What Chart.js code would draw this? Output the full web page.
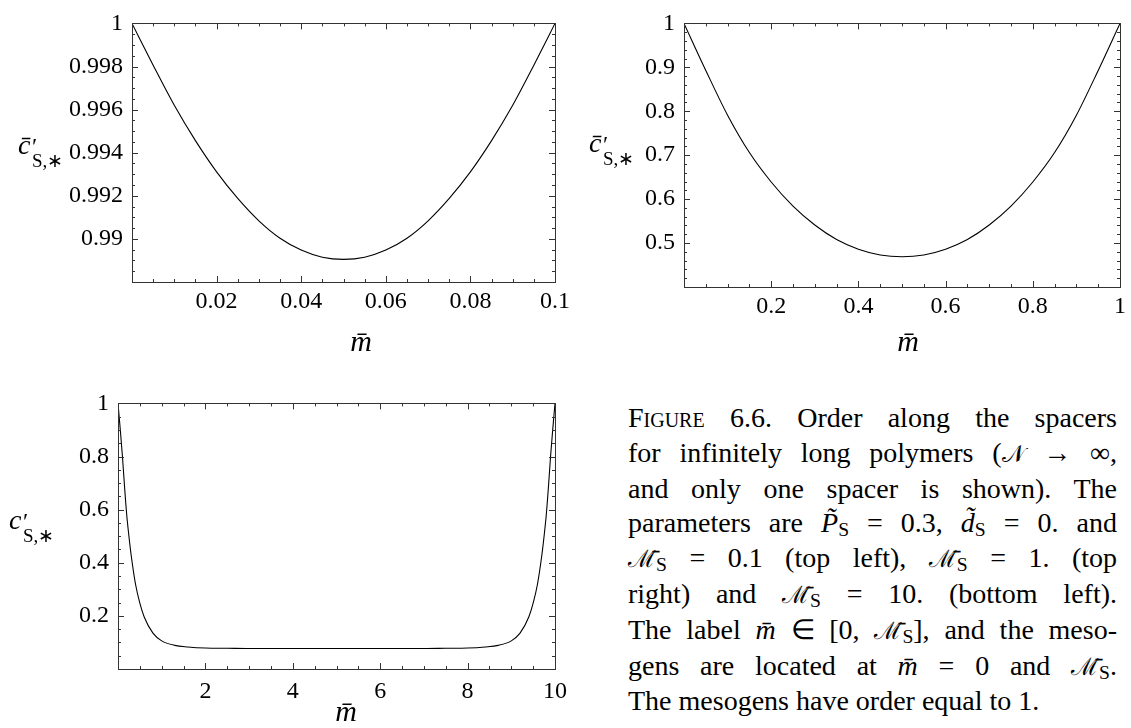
<!DOCTYPE html>
<html>
<head>
<meta charset="utf-8">
<script src="https://cdn.jsdelivr.net/npm/chart.js@4.4.1/dist/chart.umd.min.js"></script>
<style>
body { margin: 0; background: #fff; }
canvas { position: absolute; }
.lbl { position: absolute; font-family: "Times New Roman", serif; color: #000; white-space: nowrap; line-height: 1; }
.mbar { transform: translateX(-50%); font-size: 30px; font-style: italic; }
.cap { position: absolute; left: 628px; top: 401px; width: 489px; font-family: "Times New Roman", serif;
       font-size: 28px; line-height: 34.8px; color: #000; }
.cap div { text-align: justify; text-align-last: justify; }
.cap div.last { text-align-last: left; }
.cap sub { font-size: 70%; vertical-align: -0.22em; line-height: 0; font-style: normal; }
.cal { font-family: "DejaVu Serif"; font-size: 24px; font-style: normal; }
.sc { font-variant: small-caps; }
</style>
</head>
<body>
<canvas id="plotA" width="575" height="330" style="left:0;top:0"></canvas>
<canvas id="plotB" width="561" height="330" style="left:570px;top:0"></canvas>
<canvas id="plotC" width="575" height="330" style="left:0;top:380px"></canvas>

<!-- axis titles -->
<div class="lbl" style="left:18px;top:131px;font-size:28px;font-style:italic">c&#772;</div>
<div class="lbl" style="left:32px;top:134px;font-size:24px">&#8242;</div>
<div class="lbl" style="left:32px;top:151px;font-size:19px">S,&#8727;</div>
<div class="lbl mbar" style="left:361px;top:326px">m&#772;</div>

<div class="lbl" style="left:589px;top:129px;font-size:28px;font-style:italic">c&#772;</div>
<div class="lbl" style="left:603px;top:132px;font-size:24px">&#8242;</div>
<div class="lbl" style="left:603px;top:149px;font-size:19px">S,&#8727;</div>
<div class="lbl mbar" style="left:908px;top:326px">m&#772;</div>

<div class="lbl" style="left:9px;top:506px;font-size:28px;font-style:italic">c</div>
<div class="lbl" style="left:23px;top:509px;font-size:24px">&#8242;</div>
<div class="lbl" style="left:23px;top:526px;font-size:19px">S,&#8727;</div>
<div class="lbl mbar" style="left:346px;top:696px">m&#772;</div>

<div class="cap">
  <div><span class="sc">Figure</span> 6.6. Order along the spacers</div>
  <div>for infinitely long polymers (<span class="cal">&#119977;</span> &#8594; &#8734;,</div>
  <div>and only one spacer is shown). The</div>
  <div>parameters are <i>P&#771;</i><sub>S</sub> = 0.3, <i>d&#771;</i><sub>S</sub> = 0. and</div>
  <div><span class="cal">&#8499;&#772;</span><sub>S</sub> = 0.1 (top left), <span class="cal">&#8499;&#772;</span><sub>S</sub> = 1. (top</div>
  <div>right) and <span class="cal">&#8499;&#772;</span><sub>S</sub> = 10. (bottom left).</div>
  <div>The label <i>m&#772;</i> &#8712; [0, <span class="cal">&#8499;&#772;</span><sub>S</sub>], and the meso-</div>
  <div>gens are located at <i>m&#772;</i> = 0 and <span class="cal">&#8499;&#772;</span><sub>S</sub>.</div>
  <div class="last">The mesogens have order equal to 1.</div>
</div>

<script>
// ── Data ────────────────────────────────────────────────────
// top left: M_S = 0.1
const mA = [0, 0.005, 0.01, 0.015, 0.02, 0.025, 0.03, 0.035, 0.04, 0.045, 0.05,
            0.055, 0.06, 0.065, 0.07, 0.075, 0.08, 0.085, 0.09, 0.095, 0.1];
const cA = [1.0, 0.99806, 0.99620, 0.99456, 0.99311, 0.99188, 0.99084, 0.99003, 0.98948, 0.98915, 0.98905,
            0.98915, 0.98948, 0.99003, 0.99084, 0.99188, 0.99311, 0.99456, 0.99620, 0.99806, 1.0];

// top right: M_S = 1
const mB = [0, 0.05, 0.1, 0.15, 0.2, 0.25, 0.3, 0.35, 0.4, 0.45, 0.5,
            0.55, 0.6, 0.65, 0.7, 0.75, 0.8, 0.85, 0.9, 0.95, 1];
const cB = [1.0, 0.893, 0.791, 0.706, 0.639, 0.584, 0.541, 0.508, 0.486, 0.473, 0.469,
            0.473, 0.486, 0.508, 0.541, 0.584, 0.639, 0.706, 0.791, 0.893, 1.0];

// bottom left: M_S = 10
const mC = [0, 0.05, 0.1, 0.15, 0.2, 0.25, 0.3, 0.4, 0.5, 0.6, 0.8, 1.0, 1.3, 1.6, 2.0, 2.5, 3, 4, 5,
            6, 7, 7.5, 8, 8.4, 8.7, 9.0, 9.2, 9.4, 9.5, 9.6, 9.7, 9.75, 9.8, 9.85, 9.9, 9.95, 10];
const cC = [1.0, 0.905, 0.804, 0.686, 0.58, 0.50, 0.43, 0.32, 0.248, 0.196, 0.135, 0.106, 0.089, 0.083, 0.079, 0.078, 0.077, 0.077, 0.077,
            0.077, 0.077, 0.078, 0.079, 0.083, 0.089, 0.106, 0.135, 0.196, 0.248, 0.32, 0.43, 0.50, 0.58, 0.686, 0.804, 0.905, 1.0];

// ── Tick values and labels ──────────────────────────────────
const xTicksA = [0.02, 0.04, 0.06, 0.08, 0.1];
const xLabelsA = ['0.02', '0.04', '0.06', '0.08', '0.1'];
const yTicksA = [0.99, 0.992, 0.994, 0.996, 0.998, 1];
const yLabelsA = ['0.99', '0.992', '0.994', '0.996', '0.998', '1'];

const xTicksB = [0.2, 0.4, 0.6, 0.8, 1];
const xLabelsB = ['0.2', '0.4', '0.6', '0.8', '1'];
const yTicksB = [0.5, 0.6, 0.7, 0.8, 0.9, 1];
const yLabelsB = ['0.5', '0.6', '0.7', '0.8', '0.9', '1'];

const xTicksC = [2, 4, 6, 8, 10];
const xLabelsC = ['2', '4', '6', '8', '10'];
const yTicksC = [0.2, 0.4, 0.6, 0.8, 1];
const yLabelsC = ['0.2', '0.4', '0.6', '0.8', '1'];

// minor tick positions (Mathematica-style frame ticks)
function steps(lo, hi, st) {
  const out = [];
  const n = Math.round((hi - lo) / st);
  for (let i = 0; i <= n; i++) out.push(+(lo + i * st).toFixed(6));
  return out;
}

// ── Frame + inward ticks on all four sides ──────────────────
const frameTicks = {
  id: 'frameTicks',
  afterDraw(chart, args, o) {
    const { ctx, chartArea: a, scales: { x, y } } = chart;
    ctx.save();
    ctx.strokeStyle = '#333';
    ctx.lineWidth = 1;
    ctx.beginPath();
    const xt = (v, len) => {
      const px = Math.round(x.getPixelForValue(v)) + 0.5;
      ctx.moveTo(px, a.bottom); ctx.lineTo(px, a.bottom - len);
      ctx.moveTo(px, a.top); ctx.lineTo(px, a.top + len);
    };
    const yt = (v, len) => {
      const py = Math.round(y.getPixelForValue(v)) + 0.5;
      ctx.moveTo(a.left, py); ctx.lineTo(a.left + len, py);
      ctx.moveTo(a.right, py); ctx.lineTo(a.right - len, py);
    };
    o.xMinor.forEach(v => xt(v, 3));
    o.yMinor.forEach(v => yt(v, 3));
    o.xMajor.forEach(v => xt(v, 6));
    o.yMajor.forEach(v => yt(v, 6));
    ctx.stroke();
    ctx.strokeRect(Math.round(a.left) + 0.5, Math.round(a.top) + 0.5,
                   Math.round(a.right - a.left), Math.round(a.bottom - a.top));
    ctx.restore();
  }
};

function makePlot(id, xs, ys, p) {
  const tickFont = { family: '"Times New Roman", serif', size: 24 };
  return new Chart(document.getElementById(id), {
    type: 'line',
    data: {
      datasets: [{
        data: xs.map((v, i) => ({ x: v, y: ys[i] })),
        borderColor: '#000',
        borderWidth: 1.1,
        pointRadius: 0,
        fill: false,
        cubicInterpolationMode: 'monotone'
      }]
    },
    options: {
      responsive: false, animation: false,
      layout: { padding: p.pad },
      scales: {
        x: {
          type: 'linear', min: p.xMin, max: p.xMax,
          afterBuildTicks: s => { s.ticks = p.xTicks.map(v => ({ value: v })); },
          afterFit: s => { s.height = p.xH; },
          ticks: { color: '#000', font: tickFont, padding: p.xPadT, maxRotation: 0,
                   callback: (v, i) => p.xLabels[i] },
          grid: { display: false, drawTicks: false },
          border: { display: false }
        },
        y: {
          type: 'linear', min: p.yMin, max: p.yMax,
          afterBuildTicks: s => { s.ticks = p.yTicks.map(v => ({ value: v })); },
          afterFit: s => { s.width = p.yW; },
          ticks: { color: '#000', font: tickFont, padding: 9,
                   callback: (v, i) => p.yLabels[i] },
          grid: { display: false, drawTicks: false },
          border: { display: false }
        }
      },
      plugins: {
        legend: { display: false },
        tooltip: { enabled: false },
        frameTicks: {
          xMajor: p.xTicks, yMajor: p.yTicks,
          xMinor: steps(p.xMin, p.xMax, p.xStep), yMinor: steps(p.yMin, p.yMax, p.yStep)
        }
      }
    },
    plugins: [frameTicks]
  });
}

makePlot('plotA', mA, cA, {
  xMin: 0, xMax: 0.1, yMin: 0.988, yMax: 1, xStep: 0.005, yStep: 0.0005,
  xTicks: xTicksA, xLabels: xLabelsA, yTicks: yTicksA, yLabels: yLabelsA,
  yW: 132, xH: 48, xPadT: 5,
  pad: { left: 0, top: 18, right: 16, bottom: 0 }
});

makePlot('plotB', mB, cB, {
  xMin: 0, xMax: 1, yMin: 0.4, yMax: 1, xStep: 0.05, yStep: 0.02,
  xTicks: xTicksB, xLabels: xLabelsB, yTicks: yTicksB, yLabels: yLabelsB,
  yW: 114, xH: 43, xPadT: 5,
  pad: { left: 0, top: 13, right: 6, bottom: 0 }
});

makePlot('plotC', mC, cC, {
  xMin: 0, xMax: 10, yMin: 0, yMax: 1, xStep: 0.5, yStep: 0.05,
  xTicks: xTicksC, xLabels: xLabelsC, yTicks: yTicksC, yLabels: yLabelsC,
  yW: 118, xH: 41, xPadT: 8,
  pad: { left: 0, top: 17, right: 16, bottom: 0 }
});
</script>
</body>
</html>
